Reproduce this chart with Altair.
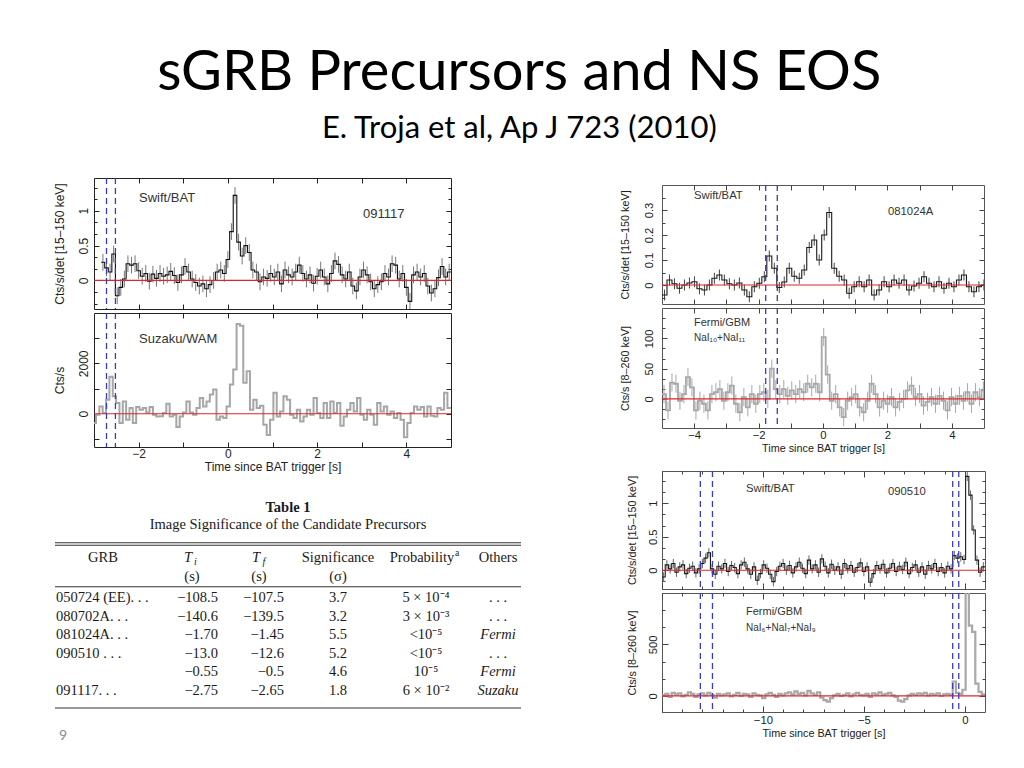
import altair as alt
import pandas as pd

SANS = "Liberation Sans"
SERIF = "Liberation Serif"
SLIDE = "Lato"
RED = "#e0262b"
BLUE = "#3a3ac8"
TXT = "#222222"

# ---------------- Figure 1 : GRB 091117 ----------------
bat1_start, bat1_bin = -2.84, 0.08
bat1_rate = [0.26, 0.18, 0.12, 0.38, -0.22, -0.10, 0.02, 0.24, 0.22, 0.24,
             0.14, 0.06, 0.10, -0.01, 0.09, 0.03, 0.10, 0.06, 0.08, 0.13,
             0.07, -0.03, 0.08, 0.20, 0.12, 0.02, -0.03, -0.08, -0.05, -0.12,
             -0.06, 0.00, 0.12, 0.15, 0.10, 0.30, 0.70, 1.22, 0.55, 0.35,
             0.50, 0.40, 0.15, 0.12, -0.02, 0.05, 0.03, 0.10,
             0.05, 0.12, -0.05, 0.15, 0.08, 0.05, 0.12, 0.22, 0.10, 0.02,
             0.08, -0.04, 0.06, 0.15, 0.05, -0.05, 0.10, 0.28, 0.23, 0.08,
             0.02, 0.12, -0.08, -0.15, 0.05, 0.15, 0.08, -0.02, -0.12, -0.06,
             -0.02, 0.10, 0.05, 0.24, 0.22, 0.02, 0.10, -0.10, -0.30, 0.08,
             0.12, 0.05, 0.10, -0.08, -0.18, -0.12, 0.04, 0.20, 0.05, 0.12]
bat1_err = 0.12
wam1_start, wam1_bin = -3.03, 0.075
wam1_rate = [-370, -40, 290, 30, 560, 1470, 690, 430, -370, 490,
             -240, 230, -370, 270, 160, 230, 50, 270, -40, -110,
             -100, 30, 400, -110, -40, -530, -110, 50, 490, 50,
             -40, 230, 630, 290, 490, 760, 960, -240, -110, -170,
             290, 1160, 1760, 3560, 3490, 1230, 1690, 160, 560, 230,
             320, -440, -840, -240, 830, -110, 90, 690, 560, -40,
             -170, 160, -310, -110, 160, -40, 630, 30, -170, 430,
             -170, 490, 30, 430, -480, -110, 160, 430, 90, 630,
             -40, -240, 160, -40, -440, 430, 90, 290, -40, 90,
             -170, 30, -240, -930, -370, 30, 290, 160, 270, -110,
             290, -80, -110, 230, 160, 830, 230]
fig1_marks = [-2.72, -2.52]

# ---------------- Figure 2 : GRB 081024A ----------------
bat2_start, bat2_bin = -5.0, 0.155
bat2_rate = [-0.040, 0.020, 0.005, -0.013, 0.000, 0.008, 0.013, -0.015, -0.020, 0.000,
             0.027, 0.040, 0.020, 0.005, 0.000, 0.008, -0.020, -0.047, -0.007, 0.007,
             0.033, 0.116, 0.067, -0.010, 0.012, 0.067, 0.035, 0.027, 0.060, 0.150,
             0.180, 0.100, 0.200, 0.290, 0.067, 0.035, 0.020, -0.033, -0.007, 0.013,
             -0.007, 0.020, -0.040, -0.020, 0.013, -0.007, 0.020, 0.007, 0.020, -0.020,
             -0.004, 0.007, 0.033, 0.007, -0.007, 0.013, -0.013, 0.007, -0.007, 0.020,
             0.040, -0.007, -0.027, -0.007, 0.000]
bat2_err = 0.022
gbm2_start, gbm2_bin = -5.0, 0.124
gbm2_rate = [8, -19, 27, 25, -3, 8, 36, 19, -19, -3,
             -8, -19, 8, 11, 16, -3, 11, 22, -8, -22,
             3, -14, 8, -8, 8, 11, 0, 50, 16, 8,
             16, 5, 14, 8, 16, 11, 25, 19, 25, 11,
             102, 40, -3, 8, -14, -30, -3, 3, 8, -14,
             -22, -3, 25, 8, -14, -3, -8, 3, -14, -5,
             0, 14, 22, 3, 8, -11, -5, 3, -8, 5,
             -3, -19, 3, -8, 5, -3, 11, -8, 11, 3,
             14]
gbm2_err = 15
fig2_marks = [-1.78, -1.42]

# ---------------- Figure 3 : GRB 090510 ----------------
bat3_start, bat3_bin = -15.0, 0.16
bat3_rate = [-0.10, 0.08, 0.02, 0.10, -0.03, 0.05, 0.08, -0.05, 0.03, 0.06,
             -0.04, 0.02, 0.10, 0.18, 0.26, 0.02, -0.06, 0.06, 0.02, 0.10,
             -0.02, 0.07, 0.04, -0.05, 0.08, 0.12, 0.02, -0.06, 0.05, -0.15,
             -0.05, 0.08, 0.03, -0.06, -0.17, -0.02, 0.06, 0.10, 0.00, 0.07,
             -0.04, 0.05, 0.12, 0.03, -0.05, 0.15, 0.02, 0.08, -0.03, 0.17,
             0.06, -0.04, 0.09, 0.00, 0.05, -0.06, 0.10, 0.02, 0.07, -0.03,
             0.04, 0.11, -0.02, 0.05, -0.18, -0.05, 0.07, 0.02, 0.09, -0.04,
             0.03, 0.10, -0.02, 0.06, 0.01, 0.12, -0.05, 0.04, 0.08, -0.03,
             0.05, -0.06, 0.07, 0.02, 0.10, -0.02, 0.04, -0.04, 0.06, 0.02,
             0.22, 0.18, 0.20, 0.16, 1.40, 1.12, 0.60, 0.15, -0.03, 0.05]
bat3_err = 0.07
gbm3_start, gbm3_bin = -15.0, 0.16
gbm3_rate = [5, 20, -10, 30, 15, 25, -5, 10, 35, 20,
             -10, 15, 25, 5, 30, 10, -15, 20, 5, 15,
             25, -5, 10, 30, 0, 20, 15, -10, 25, 10,
             5, -20, 15, 30, 10, -10, 20, 5, 25, 35,
             15, 45, 20, 30, 5, 50, 25, 10, 35, -15,
             -40, -55, -20, 5, 20, 0, 10, 25, -5, 15,
             30, 10, 5, 20, -10, 25, 15, 35, 10, 20,
             30, 5, -10, -45, -55, -30, 5, 20, 10, 25,
             15, 30, 5, 20, 10, 25, 0, 15, 20, 10,
             140, 30, 20, 60, 1100, 680, 620, 120, 40, 15]
fig3_marks = [-13.1, -12.5, -0.6, -0.3]

# ---------------- Table 1 ----------------
FS = "\u2007"
tbl_grb = ["050724 (EE). . .", "080702A. . .", "081024A. . .", "090510 . . .", "", "091117. . ."]
tbl_ti = ["\u2212108.5" + FS, "\u2212140.6" + FS, "\u22121.70", "\u221213.0" + FS, "\u22120.55", "\u22122.75"]
tbl_tf = ["\u2212107.5" + FS, "\u2212139.5" + FS, "\u22121.45", "\u221212.6" + FS, "\u22120.5" + FS, "\u22122.65"]
tbl_sig = ["3.7", "3.2", "5.5", "5.2", "4.6", "1.8"]
tbl_prob = ["5 \u00d7 10\u207b\u2074", "3 \u00d7 10\u207b\u00b3", "<10\u207b\u2075",
            "<10\u207b\u2075", "10\u207b\u2075", "6 \u00d7 10\u207b\u00b2"]
tbl_other = [". . .", ". . .", "Fermi", ". . .", "Fermi", "Suzaku"]
tbl_other_italic = [False, False, True, False, True, True]


def steps(start, width, rates):
    t = [start + i * width for i in range(len(rates) + 1)]
    v = list(rates) + [rates[-1]]
    return pd.DataFrame({"t": t, "v": v})


def errs(start, width, rates, e):
    return pd.DataFrame({"t": [start + (i + 0.5) * width for i in range(len(rates))],
                         "lo": [r - e for r in rates], "hi": [r + e for r in rates]})


def tick_axis(orient, offset, values, size, color):
    return alt.Axis(orient=orient, offset=offset, values=values, labels=False, domain=False,
                    grid=False, ticks=True, tickSize=size, tickColor=color, tickWidth=1,
                    title=None, minExtent=0)


def one():
    return pd.DataFrame({"a": [0]})


def panel(start, width, rates, err, xdom, ydom, w, h, line_color, line_w, err_color,
          marks, notes, frame, tick_col, xmaj, xmin, ymaj, ymin, ylabels, ytitle,
          xlabels=None, xtitle=None, lab_fs=12, tit_fs=12, ypad=4, ytpad=12,
          xpad=3, xtpad=2, big=5, small=3):
    xs = alt.Scale(domain=xdom, nice=False, zero=False)
    ys = alt.Scale(domain=ydom, nice=False, zero=False)
    sdf = steps(start, width, rates)
    layers = []
    if err is not None:
        layers.append(alt.Chart(errs(start, width, rates, err)).mark_rule(
            color=err_color, strokeWidth=1, clip=True).encode(
            x=alt.X("t:Q", scale=xs, axis=None),
            y=alt.Y("lo:Q", scale=ys, axis=None), y2="hi:Q"))
    layers.append(alt.Chart(sdf).mark_line(
        interpolate="step-after", color=line_color, strokeWidth=line_w, clip=True).encode(
        x=alt.X("t:Q", scale=xs, axis=None), y=alt.Y("v:Q", scale=ys, axis=None)))
    layers.append(alt.Chart(pd.DataFrame({"z": [0]})).mark_rule(color=RED, strokeWidth=1.2).encode(
        y=alt.Y("z:Q", scale=ys, axis=None)))
    layers.append(alt.Chart(pd.DataFrame({"t": marks})).mark_rule(
        color=BLUE, strokeWidth=1.3, strokeDash=[6, 4]).encode(
        x=alt.X("t:Q", scale=xs, axis=None)))
    for (txt, px, py, fs) in notes:
        layers.append(alt.Chart(one()).mark_text(
            text=txt, align="left", baseline="middle", font=SANS, fontSize=fs, color="#333333").encode(
            x=alt.value(px), y=alt.value(py)))
    ymain = alt.Axis(orient="left", values=ylabels, format="~f", labelAngle=270, labelAlign="center",
                     labelBaseline="alphabetic", labelPadding=ypad, labelFont=SANS, labelFontSize=lab_fs,
                     labelColor=TXT, labelFlush=False, labelOverlap=False, ticks=False, tickSize=0,
                     domain=False, grid=False, title=ytitle, titleFont=SANS, titleFontSize=tit_fs,
                     titleFontWeight="normal", titleColor=TXT, titlePadding=ytpad, minExtent=0)
    xmain = None
    if xlabels is not None:
        xmain = alt.Axis(orient="bottom", values=xlabels, format="~f", labelPadding=xpad, labelFont=SANS,
                         labelFontSize=lab_fs, labelColor=TXT, labelFlush=False, labelOverlap=False,
                         ticks=False, tickSize=0, domain=False, grid=False, title=xtitle, titleFont=SANS,
                         titleFontSize=tit_fs, titleFontWeight="normal", titleColor=TXT,
                         titlePadding=xtpad, minExtent=0)
    pairs = [
        (xmain, ymain),
        (tick_axis("top", -h, xmaj, big, tick_col), tick_axis("right", -w, ymaj, big, tick_col)),
        (tick_axis("bottom", -h, xmaj, big, tick_col), tick_axis("left", -w, ymaj, big, tick_col)),
    ]
    if xmin or ymin:
        pairs.append((tick_axis("top", -h, xmin, small, tick_col) if xmin else None,
                      tick_axis("right", -w, ymin, small, tick_col) if ymin else None))
        pairs.append((tick_axis("bottom", -h, xmin, small, tick_col) if xmin else None,
                      tick_axis("left", -w, ymin, small, tick_col) if ymin else None))
    for xa, ya in pairs:
        layers.append(alt.Chart(sdf).mark_point(opacity=0, size=1, clip=True).encode(
            x=alt.X("t:Q", scale=xs, axis=xa), y=alt.Y("v:Q", scale=ys, axis=ya)))
    return alt.layer(*layers).resolve_axis(x="independent", y="independent").properties(
        width=w, height=h, view=alt.ViewBackground(stroke=frame, strokeWidth=1))


BAT_TITLE = "Cts/s/det [15\u2013150 keV]"
GBM_TITLE = "Cts/s [8\u2013260 keV]"
TIME_TITLE = "Time since BAT trigger [s]"
third = 1.0 / 3.0

f1top = panel(bat1_start, bat1_bin, bat1_rate, bat1_err, [-3, 5], [-0.41, 1.47], 357, 131,
              "#111111", 1.1, "#777777", fig1_marks,
              [("Swift/BAT", 45, 20, 13), ("091117", 269, 36, 13)],
              "#222222", "#222222", [-2, -1, 0, 1, 2, 3, 4], [],
              [0, 0.5, 1], [-2 * third / 2, -third / 2, third / 2, third, 2 * third, 5 * third / 2,
                            7 * third / 2, 4 * third],
              [0, 0.5, 1], BAT_TITLE, lab_fs=12, tit_fs=12, ypad=7, ytpad=11)
f1bot = panel(wam1_start, wam1_bin, wam1_rate, None, [-3, 5], [-1320, 4000], 357, 134,
              "#a6a6a6", 2, None, fig1_marks,
              [("Suzaku/WAM", 45, 26, 13)],
              "#222222", "#222222", [-2, -1, 0, 1, 2, 3, 4], [],
              [-1000, 0, 1000, 2000, 3000], [],
              [0, 2000], "Cts/s", xlabels=[-2, 0, 2, 4], xtitle=TIME_TITLE,
              lab_fs=12, tit_fs=12, ypad=7, ytpad=11, xpad=1, xtpad=2)

f2top = panel(bat2_start, bat2_bin, bat2_rate, bat2_err, [-5, 5], [-0.076, 0.4], 322, 119,
              "#1a1a1a", 1.1, "#444444", fig2_marks,
              [("Swift/BAT", 32, 11, 11.3), ("081024A", 226, 27, 11.3)],
              "#555555", "#444444", [-4, -3, -2, -1, 0, 1, 2, 3, 4], [],
              [0, 0.1, 0.2, 0.3], [-0.05, 0.05, 0.15, 0.25, 0.35],
              [0, 0.1, 0.2, 0.3], BAT_TITLE, lab_fs=11.3, tit_fs=10.8, ypad=10, ytpad=13)
f2bot = panel(gbm2_start, gbm2_bin, gbm2_rate, gbm2_err, [-5, 5], [-48, 150], 322, 120,
              "#a8a8a8", 1.8, "#a8a8a8", fig2_marks,
              [("Fermi/GBM", 32, 15, 11), ("NaI\u2081\u2080+NaI\u2081\u2081", 32, 30, 10)],
              "#555555", "#444444", [-4, -3, -2, -1, 0, 1, 2, 3, 4], [],
              [0, 50, 100], [-100 * third, -50 * third, 50 * third, 100 * third, 200 * third,
                             250 * third, 350 * third, 400 * third],
              [0, 50, 100], GBM_TITLE, xlabels=[-4, -2, 0, 2, 4], xtitle=TIME_TITLE,
              lab_fs=11.3, tit_fs=10.8, ypad=10, ytpad=13, xpad=1, xtpad=2)

f3top = panel(bat3_start, bat3_bin, bat3_rate, bat3_err, [-15, 1], [-0.28, 1.48], 323, 118,
              "#1a1a1a", 1.1, "#666666", fig3_marks,
              [("Swift/BAT", 84, 18, 11.3), ("090510", 226, 21, 11.3)],
              "#555555", "#444444", [-15, -10, -5, 0], [-14, -13, -12, -11, -9, -8, -7, -6, -4, -3, -2, -1],
              [0, 0.5, 1], [-third / 2, third / 2, third, 2 * third, 5 * third / 2, 7 * third / 2, 4 * third],
              [0, 0.5, 1], BAT_TITLE, lab_fs=11.3, tit_fs=10.8, ypad=6, ytpad=10, big=6)
f3bot = panel(gbm3_start, gbm3_bin, gbm3_rate, None, [-15, 1], [-155, 996], 323, 119,
              "#a8a8a8", 2.2, None, fig3_marks,
              [("Fermi/GBM", 84, 19, 11), ("NaI\u2086+NaI\u2087+NaI\u2089", 84, 35, 10)],
              "#555555", "#444444", [-15, -10, -5, 0], [-14, -13, -12, -11, -9, -8, -7, -6, -4, -3, -2, -1],
              [0, 500], [500 * third, 1000 * third, 2000 * third, 2500 * third],
              [0, 500], GBM_TITLE, xlabels=[-10, -5, 0], xtitle=TIME_TITLE,
              lab_fs=11.3, tit_fs=10.8, ypad=6, ytpad=10, xpad=2, xtpad=2, big=6)

# ---------------- table chart ----------------
tdf = pd.DataFrame({"r": list(range(6)), "grb": tbl_grb, "ti": tbl_ti, "tf": tbl_tf,
                    "sig": tbl_sig, "prob": tbl_prob, "oth": tbl_other, "it": tbl_other_italic})
rowscale = alt.Scale(domain=[0, 5], range=[102.3, 195])
TFS = 14.5
TCOL = "#1a1a1a"


def tcol(field, px, align, style="normal", filt=None):
    base = alt.Chart(tdf)
    if filt is not None:
        base = base.transform_filter(filt)
    return base.mark_text(align=align, baseline="middle", font=SERIF, fontSize=TFS,
                          fontStyle=style, color=TCOL).encode(
        x=alt.value(px), y=alt.Y("r:Q", scale=rowscale, axis=None), text=f"{field}:N")


def ttxt(txt, px, py, fs=TFS, align="center", weight="normal", style="normal", font=SERIF, color=TCOL):
    return alt.Chart(one()).mark_text(text=txt, align=align, baseline="middle", font=font,
                                      fontSize=fs, fontWeight=weight, fontStyle=style,
                                      color=color).encode(x=alt.value(px), y=alt.value(py))


def trule(py, sw=1.1):
    return alt.Chart(one()).mark_rule(color="#333333", strokeWidth=sw).encode(
        x=alt.value(-39), x2=alt.value(427), y=alt.value(py))


table = alt.layer(
    ttxt("Table 1", 194, 12, weight="bold"),
    ttxt("Image Significance of the Candidate Precursors", 194, 28.5),
    trule(46.7), trule(49.3), trule(90.7), trule(212),
    ttxt("GRB", 9, 61.7),
    ttxt("T", 94, 61.7, style="italic"), ttxt("i", 101.5, 66, fs=10, style="italic"),
    ttxt("T", 162, 61.7, style="italic"), ttxt("f", 170, 66, fs=10, style="italic"),
    ttxt("Significance", 244, 61.7),
    ttxt("Probability", 328, 61.7), ttxt("a", 363, 56.5, fs=9.5),
    ttxt("Others", 404, 61.7),
    ttxt("(s)", 98, 80.7), ttxt("(s)", 165, 80.7), ttxt("(\u03c3)", 244, 80.7),
    tcol("grb", -38, "left"),
    tcol("ti", 124, "right"),
    tcol("tf", 190, "right"),
    tcol("sig", 244, "center"),
    tcol("prob", 332, "center"),
    tcol("oth", 404, "center", "italic", alt.datum.it),
    tcol("oth", 404, "center", "normal", ~alt.datum.it),
    ttxt("9", -31, 240, fs=14, font=SLIDE, color="#8c8c8c"),
).properties(width=427, height=215, view=alt.ViewBackground(stroke="transparent"))

spacer = alt.Chart(one()).mark_text(text=" ", fontSize=1).encode(
    x=alt.value(0), y=alt.value(2)).properties(width=300, height=4,
                                                 view=alt.ViewBackground(stroke="transparent"))

left = alt.vconcat(alt.vconcat(f1top, f1bot, spacing=0), table, spacing=22)
right = alt.vconcat(alt.vconcat(spacer, f2top, f2bot, spacing=0),
                    alt.vconcat(f3top, f3bot, spacing=0), spacing=15)

chart = alt.hconcat(left, right, spacing=95).properties(
    title=alt.TitleParams(text="sGRB Precursors and NS EOS",
                          subtitle="E. Troja et al, Ap J 723 (2010)",
                          font=SLIDE, fontSize=56, fontWeight="normal", color="#000000",
                          subtitleFont=SLIDE, subtitleFontSize=31, subtitleColor="#000000",
                          subtitlePadding=12.5, anchor="middle", offset=31.5),
    padding={"left": 44, "top": 36, "right": 5, "bottom": 5},
    background="white",
)

chart.save("out.html", embed_options={"renderer": "svg", "actions": False})
